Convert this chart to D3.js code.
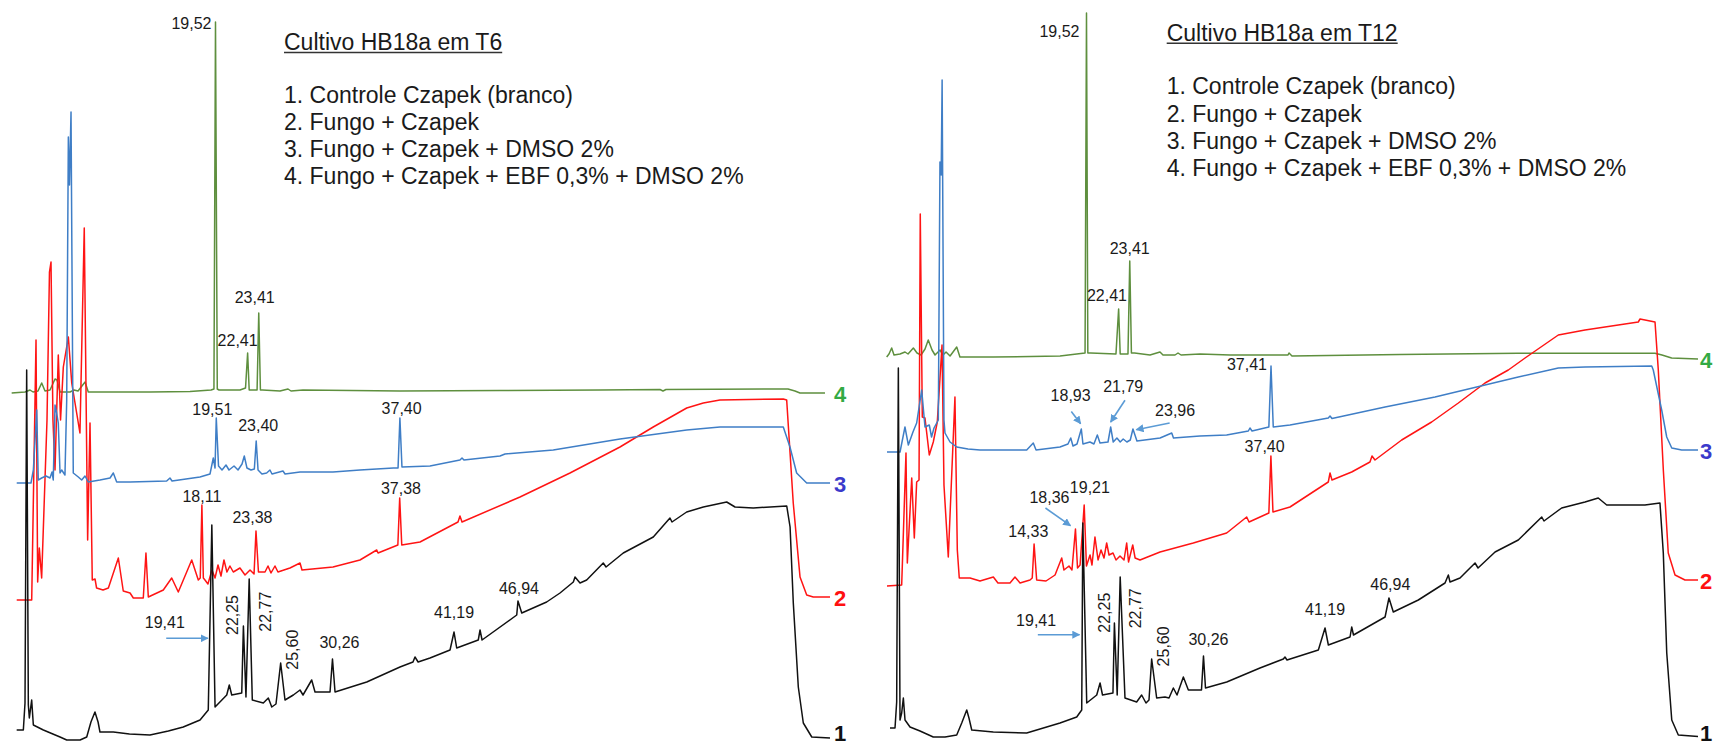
<!DOCTYPE html>
<html>
<head>
<meta charset="utf-8">
<script src="https://cdn.jsdelivr.net/npm/d3@7"></script>
<style>
  html, body { margin: 0; padding: 0; background: #fff; }
  svg { display: block; font-family: "Liberation Sans", Arial, sans-serif; }
</style>
</head>
<body>
<svg id="chart" width="1715" height="747"></svg>
<script>
// ---- Sample descriptions ----
const panelTitles = ["Cultivo HB18a em T6", "Cultivo HB18a em T12"];
const sampleNames = [
  "1. Controle Czapek (branco)",
  "2. Fungo + Czapek",
  "3. Fungo + Czapek + DMSO 2%",
  "4. Fungo + Czapek + EBF 0,3% + DMSO 2%"
];
const traceIds = ["1", "2", "3", "4"];

// Acquisition window of each run (min); every run spans the full panel width
const runWindow = { "1": [1.8, 75.0], "2": [0, 79.3], "3": [0, 79.3], "4": [1.58, 74.78] };

// ---- Chromatograms: [retention time (min), signal above the run's own baseline] ----
const t6Trace1 = [[1.86,0],[2.46,0],[2.61,27],[2.76,360],[2.91,25],[3.0,12],[3.21,30],[3.36,5],[4.26,0],[5.76,-7],[6.36,-10],[7.56,-10],[8.16,-7],[8.54,8],[8.9,18],[9.18,8],[9.35,-2],[10.55,-2],[12.0,-4],[13.85,-5],[15.5,-1],[16.84,3],[18.35,10],[19.09,20],[19.41,205],[19.7,23],[20.75,35],[20.98,45],[21.2,35],[22.1,37],[22.25,104],[22.48,33],[22.77,151],[23.05,30],[24.04,27],[24.49,32],[24.8,23],[25.18,26],[25.6,67],[25.99,30],[26.44,33],[26.74,35],[27.34,40],[27.61,35],[28.39,50],[28.69,38],[30.04,38],[30.26,71],[30.49,38],[33.34,48],[36.33,63],[37.5,68],[37.68,73],[37.96,68],[39.03,72],[40.83,80],[41.19,98],[41.43,82],[43.37,90],[43.53,100],[43.71,90],[46.83,115],[46.94,129],[47.28,117],[49.52,128],[50.72,137],[51.92,148],[52.07,153],[52.52,147],[53.12,150],[54.61,167],[54.86,163],[56.41,177],[59.11,193],[60.61,212],[60.79,208],[62.11,218],[63.61,223],[65.71,228],[66.46,223],[68.1,222],[71.11,224],[71.41,203],[71.7,127],[72.15,43],[72.6,7],[73.36,-7],[75.0,-8]];
const t6Trace2 = [[0.07,0],[1.53,0],[1.95,260],[2.11,18],[2.27,52],[2.5,22],[3.02,180],[3.26,328],[3.41,338],[3.6,180],[3.8,130],[4.12,245],[4.34,180],[4.61,233],[5.1,263],[5.43,217],[6.23,167],[6.65,372],[6.98,60],[7.21,177],[7.43,20],[7.7,21],[7.85,12],[8.48,10],[9.0,12],[9.97,42],[10.45,9],[11.11,7],[11.43,2],[12.4,2],[12.66,47],[12.89,3],[14.35,10],[15.17,22],[15.81,8],[17.12,40],[17.76,20],[17.95,22],[18.11,95],[18.25,22],[18.41,20],[18.7,16],[19.09,30],[19.39,22],[19.68,35],[19.97,24],[20.26,40],[20.55,28],[20.84,34],[21.17,28],[21.82,32],[22.31,25],[22.8,30],[23.19,26],[23.38,69],[23.62,28],[24.26,28],[24.55,34],[24.84,27],[25.23,34],[25.52,28],[26.69,32],[27.67,37],[27.86,30],[30.88,33],[33.51,40],[35.14,50],[35.27,47],[37.2,55],[37.38,102],[37.58,55],[39.36,58],[43.06,78],[43.25,84],[43.45,78],[49.1,103],[53.97,127],[58.84,153],[62.08,173],[65.34,192],[66.96,197],[68.58,200],[74.75,201],[75.08,200],[75.72,97],[76.38,23],[77.03,5],[77.67,3],[79.3,3]];
const t6Trace3 = [[0.07,0],[1.46,0],[1.69,13],[2.02,73],[2.17,3],[2.5,5],[2.92,7],[3.31,5],[3.51,11],[3.63,3],[3.8,78],[3.96,70],[4.12,60],[4.29,10],[4.45,13],[4.77,8],[4.94,83],[5.1,346],[5.21,298],[5.36,371],[5.58,10],[6.07,6],[6.4,3],[6.72,7],[7.04,1],[8.18,3],[9.16,5],[9.48,10],[9.81,1],[11.11,1],[14.68,2],[15.0,5],[15.2,2],[17.92,6],[18.9,9],[19.22,25],[19.39,15],[19.51,65],[19.73,17],[20.07,13],[20.46,18],[20.75,13],[21.24,17],[21.63,13],[22.02,19],[22.24,27],[22.5,15],[22.89,13],[23.22,14],[23.4,42],[23.58,13],[23.96,9],[24.42,10],[24.74,13],[24.94,9],[26.01,12],[26.21,9],[27.67,11],[30.88,11],[33.51,13],[36.76,15],[37.22,15],[37.4,65],[37.6,16],[40.33,17],[43.25,23],[43.45,25],[43.64,23],[47.15,27],[47.64,29],[52.34,33],[58.84,44],[65.34,53],[68.58,56],[74.75,56],[75.4,36],[76.05,10],[77.03,0],[79.3,0]];
const t6Trace4 = [[1.19,0],[2.39,1],[2.84,3],[3.11,1],[3.56,2],[3.89,10],[4.19,2],[4.64,3],[5.09,14],[5.27,13],[5.54,1],[6.44,1],[6.8,3],[7.16,2],[7.79,11],[8.08,1],[9.13,1],[13.63,1],[17.23,1.5],[19.12,3],[19.38,4],[19.52,371],[19.68,4],[19.84,3],[21.72,3],[22.22,5],[22.41,40],[22.55,3],[23.07,3],[23.26,3],[23.41,80],[23.56,3],[23.75,3],[25.32,2],[26.04,4],[26.31,2],[27.39,3],[36.11,2],[45.1,2.5],[54.1,3],[59.49,3.5],[59.76,2],[60.03,3.5],[70.28,4],[71.0,4],[71.63,2],[72.08,0],[74.33,0]];

const t12Trace1 = [[2.07,0],[2.52,0],[2.67,26],[2.82,360],[2.97,8],[3.12,15],[3.27,30],[3.42,8],[3.87,1],[4.77,-3],[5.96,-9],[7.02,-9],[8.07,-7],[8.52,5],[8.97,18],[9.17,10],[9.42,-2],[11.36,-4],[14.36,-5],[17.36,5],[18.86,11],[19.31,18],[19.41,205],[19.76,25],[20.66,33],[20.96,45],[21.18,33],[22.12,35],[22.25,105],[22.5,33],[22.77,151],[23.2,30],[24.25,26],[24.7,33],[25.09,25],[25.36,28],[25.6,69],[26.05,30],[26.8,31],[27.16,30],[27.55,40],[27.88,33],[28.45,51],[28.9,38],[30.08,38],[30.26,72],[30.44,40],[32.35,46],[35.34,60],[37.44,69],[37.59,71],[37.77,68],[40.59,78],[41.19,100],[41.49,83],[43.44,91],[43.59,101],[43.75,93],[46.59,111],[46.94,130],[47.33,116],[49.58,128],[51.98,145],[52.28,153],[52.43,146],[53.33,150],[54.68,165],[54.95,160],[56.48,176],[58.57,188],[60.68,211],[60.88,207],[62.47,220],[64.57,226],[65.76,230],[66.52,223],[69.96,223],[71.31,225],[71.61,175],[71.92,75],[72.37,8],[72.96,-7],[75.36,-9]];
const t12Trace2 = [[0,0],[1.43,1],[1.85,133],[1.98,23],[2.41,108],[2.66,48],[2.89,104],[3.12,106],[3.24,372],[3.44,169],[3.7,168],[4.12,131],[4.51,144],[4.9,164],[5.36,241],[5.55,101],[5.97,29],[6.62,189],[6.85,36],[7.04,8],[8.09,8],[9.06,5],[10.36,9],[10.81,3],[11.98,3],[12.47,9],[12.96,3],[13.93,6],[14.15,8],[14.33,42],[14.58,6],[15.49,5],[16.37,11],[17.02,28],[17.24,16],[17.73,20],[18.02,16],[18.36,57],[18.56,18],[18.81,21],[19.21,81],[19.43,20],[19.78,31],[19.97,21],[20.26,49],[20.56,26],[20.85,36],[21.14,28],[21.4,43],[21.63,31],[22.02,33],[22.31,26],[22.7,30],[23.09,26],[23.35,43],[23.53,24],[23.94,41],[24.17,28],[24.65,26],[26.6,34],[29.84,43],[33.09,53],[35.04,69],[35.27,64],[37.2,73],[37.4,130],[37.6,74],[39.26,79],[42.99,104],[43.16,113],[43.35,106],[45.27,114],[47.05,124],[47.25,130],[47.54,126],[50.14,146],[53.06,164],[55.66,183],[58.26,203],[60.53,216],[62.16,228],[65.4,251],[68.0,256],[71.24,261],[73.19,264],[73.36,267],[74.82,264],[75.14,216],[75.63,116],[76.11,33],[76.77,11],[77.74,6],[79.3,6]];
const t12Trace3 = [[0,0],[1.27,0],[1.75,25],[2.08,7],[2.53,20],[2.89,29],[3.38,62],[3.7,25],[4.12,27],[4.34,15],[4.58,24],[5.0,32],[5.16,290],[5.28,277],[5.37,372],[5.55,32],[5.65,19],[6.14,10],[6.79,5],[7.89,3],[9.06,2],[13.61,2],[14.25,9],[14.52,2],[16.85,5],[17.63,8],[17.9,14],[18.12,6],[18.51,8],[18.93,23],[19.09,8],[19.77,10],[20.16,8],[20.49,17],[20.75,9],[21.53,10],[21.79,25],[22.04,10],[22.4,14],[22.72,10],[23.01,13],[23.37,10],[23.7,12],[23.96,23],[24.35,11],[26.6,14],[27.74,19],[27.91,14],[30.49,16],[33.09,17],[35.2,21],[35.36,24],[35.56,21],[37.2,25],[37.41,86],[37.63,25],[39.26,27],[42.99,34],[43.16,36],[43.35,33.5],[48.52,45],[53.39,55],[58.26,67],[61.5,75],[65.4,84],[68.0,85],[74.5,86],[74.65,82],[75.47,42],[75.96,15],[76.45,4],[77.42,2],[79.3,2]];
const t12Trace4 = [[1.55,0],[1.76,3],[2.0,9],[2.21,2],[2.75,3],[3.2,5],[3.47,3],[3.95,9],[4.28,4],[4.64,2],[5.0,8],[5.29,17],[5.63,7],[5.9,2],[6.35,7],[6.62,2],[6.89,5],[7.25,1],[7.85,10],[8.14,0],[11.14,0],[17.14,1],[19.39,4],[19.52,344],[19.64,4],[19.9,4],[22.17,3],[22.41,48],[22.55,3],[23.25,3],[23.41,96],[23.56,4],[23.84,4],[25.23,2],[26.13,5],[26.4,2],[27.48,2],[27.75,4],[28.02,2],[29.73,3],[32.43,2],[37.64,2],[37.73,4],[38.0,1],[47.71,2.5],[58.32,3.7],[70.64,3.7],[71.27,2],[72.14,-1],[74.69,-2]];

// ---- Annotated peaks (retention time, min) ----
const t6Peaks = [
  { trace: "4", t: 19.52 }, { trace: "4", t: 22.41 }, { trace: "4", t: 23.41 },
  { trace: "3", t: 19.51 }, { trace: "3", t: 23.40 }, { trace: "3", t: 37.40 },
  { trace: "2", t: 18.11 }, { trace: "2", t: 23.38 }, { trace: "2", t: 37.38 },
  { trace: "1", t: 19.41 }, { trace: "1", t: 22.25 }, { trace: "1", t: 22.77 },
  { trace: "1", t: 25.60 }, { trace: "1", t: 30.26 }, { trace: "1", t: 41.19 },
  { trace: "1", t: 46.94 }
];
const t12Peaks = [
  { trace: "4", t: 19.52 }, { trace: "4", t: 22.41 }, { trace: "4", t: 23.41 },
  { trace: "3", t: 18.93 }, { trace: "3", t: 21.79 }, { trace: "3", t: 23.96 }, { trace: "3", t: 37.41 },
  { trace: "2", t: 14.33 }, { trace: "2", t: 18.36 }, { trace: "2", t: 19.21 }, { trace: "2", t: 37.40 },
  { trace: "1", t: 19.41 }, { trace: "1", t: 22.25 }, { trace: "1", t: 22.77 },
  { trace: "1", t: 25.60 }, { trace: "1", t: 30.26 }, { trace: "1", t: 41.19 },
  { trace: "1", t: 46.94 }
];

// ---- Layout and styling ----
const W = 1715, H = 747;
const panelWidth = 814;
const traceColor = { "1": "#111111", "2": "#ff1414", "3": "#3f7ec6", "4": "#5e8f3e" };
const tagColor   = { "1": "#111111", "2": "#ff1010", "3": "#3a3acb", "4": "#33aa44" };
const arrowColor = "#5b9bd5";
const drawOrder = ["4", "2", "3", "1"];

// label offsets from the peak apex (px); rot = vertical text centred at offset
const t6Placement = {
  "4@19,52": { dx: -4, dy: 7, anchor: "end" },
  "4@22,41": { dx: -10, dy: -7 },
  "4@23,41": { dx: -4, dy: -10.5 },
  "3@19,51": { dx: -4, dy: -3.5 },
  "3@23,40": { dx: 2, dy: -10 },
  "3@37,40": { dx: 1.7, dy: -4 },
  "2@18,11": { dx: 0, dy: -3.5 },
  "2@23,38": { dx: -3.5, dy: -7.7 },
  "2@37,38": { dx: 1.3, dy: -4.3 },
  "1@19,41": { dx: -47, dy: 103.3, arrow: [-45.6, 113.3, -4, 113.3] },
  "1@22,25": { dx: -11, dy: -11, rot: true },
  "1@22,77": { dx: 16.7, dy: 32.7, rot: true },
  "1@25,60": { dx: 12, dy: -13.3, rot: true },
  "1@30,26": { dx: 7, dy: -11 },
  "1@41,19": { dx: 0, dy: -14 },
  "1@46,94": { dx: 1, dy: -7 }
};
const t12Placement = {
  "4@19,52": { dx: -7, dy: 24, anchor: "end" },
  "4@22,41": { dx: -11.7, dy: -7.6 },
  "4@23,41": { dx: 0, dy: -7.4 },
  "3@37,41": { dx: -4, dy: 4, anchor: "end" },
  "3@18,93": { dx: -10.7, dy: -27.6, arrow: [-10, -17.6, -0.7, -5.3] },
  "3@21,79": { dx: 12.5, dy: -35, arrow: [14.3, -26.7, 0, -5] },
  "3@23,96": { dx: 42.2, dy: -12.6, arrow: [36.7, -6, 3.4, 0.7] },
  "2@37,40": { dx: -6.3, dy: -4.3 },
  "2@19,21": { dx: 5.7, dy: -11.7 },
  "2@18,36": { dx: -26, dy: -26, arrow: [-30, -21, -5, -3.3] },
  "2@14,33": { dx: -5.8, dy: -7.3 },
  "1@19,41": { dx: -46.7, dy: 103.4, arrow: [-45, 111.7, -3.3, 111.7] },
  "1@22,25": { dx: -9.7, dy: -10.3, rot: true },
  "1@22,77": { dx: 15.8, dy: 31.3, rot: true },
  "1@25,60": { dx: 11.4, dy: -12.6, rot: true },
  "1@30,26": { dx: 5, dy: -11 },
  "1@41,19": { dx: 0, dy: -13.3 },
  "1@46,94": { dx: 1.3, dy: -7.6 }
};

const panels = [
  {
    ox: 16, tagX: 834, title: panelTitles[0], titlePos: [284, 50], listPos: [284, 103.3], lineGap: 27,
    stack: { "1": 17, "2": 147, "3": 264, "4": 354 },
    traces: { "1": t6Trace1, "2": t6Trace2, "3": t6Trace3, "4": t6Trace4 },
    peaks: t6Peaks, placement: t6Placement
  },
  {
    ox: 887, tagX: 1700, title: panelTitles[1], titlePos: [1166.7, 40.7], listPos: [1166.7, 94.3], lineGap: 27.2,
    stack: { "1": 19, "2": 161, "3": 295, "4": 390 },
    traces: { "1": t12Trace1, "2": t12Trace2, "3": t12Trace3, "4": t12Trace4 },
    peaks: t12Peaks, placement: t12Placement
  }
];

const svg = d3.select("#chart");
svg.append("rect").attr("width", W).attr("height", H).attr("fill", "#fff");

svg.append("defs").append("marker")
  .attr("id", "arrowHead")
  .attr("viewBox", "0 0 10 10")
  .attr("refX", 9).attr("refY", 5)
  .attr("markerUnits", "userSpaceOnUse")
  .attr("markerWidth", 8).attr("markerHeight", 8)
  .attr("orient", "auto")
  .append("path").attr("d", "M0,0 L10,5 L0,10 z").attr("fill", arrowColor);

const fmt = t => d3.format(".2f")(t).replace(".", ",");
const y = d3.scaleLinear().domain([0, H]).range([H, 0]);

panels.forEach(p => {
  const g = svg.append("g");
  const x = {};
  traceIds.forEach(id => {
    x[id] = d3.scaleLinear().domain(runWindow[id]).range([p.ox, p.ox + panelWidth]);
  });
  const px = (id, t) => x[id](t);
  const py = (id, v) => y(v + p.stack[id]);

  // chromatogram lines, clipped at the run-number column
  const clipId = "clip" + p.ox;
  svg.select("defs").append("clipPath").attr("id", clipId)
    .append("rect").attr("x", p.ox - 10).attr("y", 0)
    .attr("width", p.tagX - p.ox + 8).attr("height", H);
  const lines = g.append("g").attr("clip-path", `url(#${clipId})`);
  drawOrder.forEach(id => {
    const line = d3.line().x(d => px(id, d[0])).y(d => py(id, d[1]));
    lines.append("path")
      .datum(p.traces[id])
      .attr("d", line)
      .attr("fill", "none")
      .attr("stroke", traceColor[id])
      .attr("stroke-width", 1.5)
      .attr("stroke-linejoin", "round");
  });

  // run numbers at the end of each line, kept inside the bottom edge
  traceIds.forEach(id => {
    const last = p.traces[id][p.traces[id].length - 1];
    g.append("text")
      .attr("x", p.tagX)
      .attr("y", Math.min(py(id, last[1]) + 1, H - 14))
      .attr("dominant-baseline", "central")
      .attr("font-size", 22)
      .attr("font-weight", "bold")
      .attr("fill", tagColor[id])
      .text(id);
  });

  // peak labels
  p.peaks.forEach(pk => {
    const pt = p.traces[pk.trace].find(d => Math.abs(d[0] - pk.t) < 1e-6);
    const ax = px(pk.trace, pk.t), ay = py(pk.trace, pt[1]);
    const label = fmt(pk.t);
    const pl = p.placement[pk.trace + "@" + label];
    if (pl.rot) {
      g.append("text")
        .attr("transform", `translate(${ax + pl.dx},${ay + pl.dy}) rotate(-90)`)
        .attr("text-anchor", "middle")
        .attr("dominant-baseline", "central")
        .attr("font-size", 16)
        .attr("fill", "#1a1a1a")
        .text(label);
    } else {
      g.append("text")
        .attr("x", ax + pl.dx)
        .attr("y", ay + pl.dy)
        .attr("text-anchor", pl.anchor || "middle")
        .attr("font-size", 16)
        .attr("fill", "#1a1a1a")
        .text(label);
    }
    if (pl.arrow) {
      g.append("line")
        .attr("x1", ax + pl.arrow[0]).attr("y1", ay + pl.arrow[1])
        .attr("x2", ax + pl.arrow[2]).attr("y2", ay + pl.arrow[3])
        .attr("stroke", arrowColor)
        .attr("stroke-width", 1.6)
        .attr("marker-end", "url(#arrowHead)");
    }
  });

  // title with underline and sample list
  const title = g.append("text")
    .attr("x", p.titlePos[0]).attr("y", p.titlePos[1])
    .attr("font-size", 23).attr("fill", "#1a1a1a")
    .text(p.title);
  const tw = title.node().getComputedTextLength();
  g.append("line")
    .attr("x1", p.titlePos[0]).attr("x2", p.titlePos[0] + tw)
    .attr("y1", p.titlePos[1] + 2.5).attr("y2", p.titlePos[1] + 2.5)
    .attr("stroke", "#333").attr("stroke-width", 1.6);

  sampleNames.forEach((s, i) => {
    g.append("text")
      .attr("x", p.listPos[0])
      .attr("y", p.listPos[1] + i * p.lineGap)
      .attr("font-size", 23)
      .attr("fill", "#1a1a1a")
      .text(s);
  });
});
</script>
</body>
</html>
